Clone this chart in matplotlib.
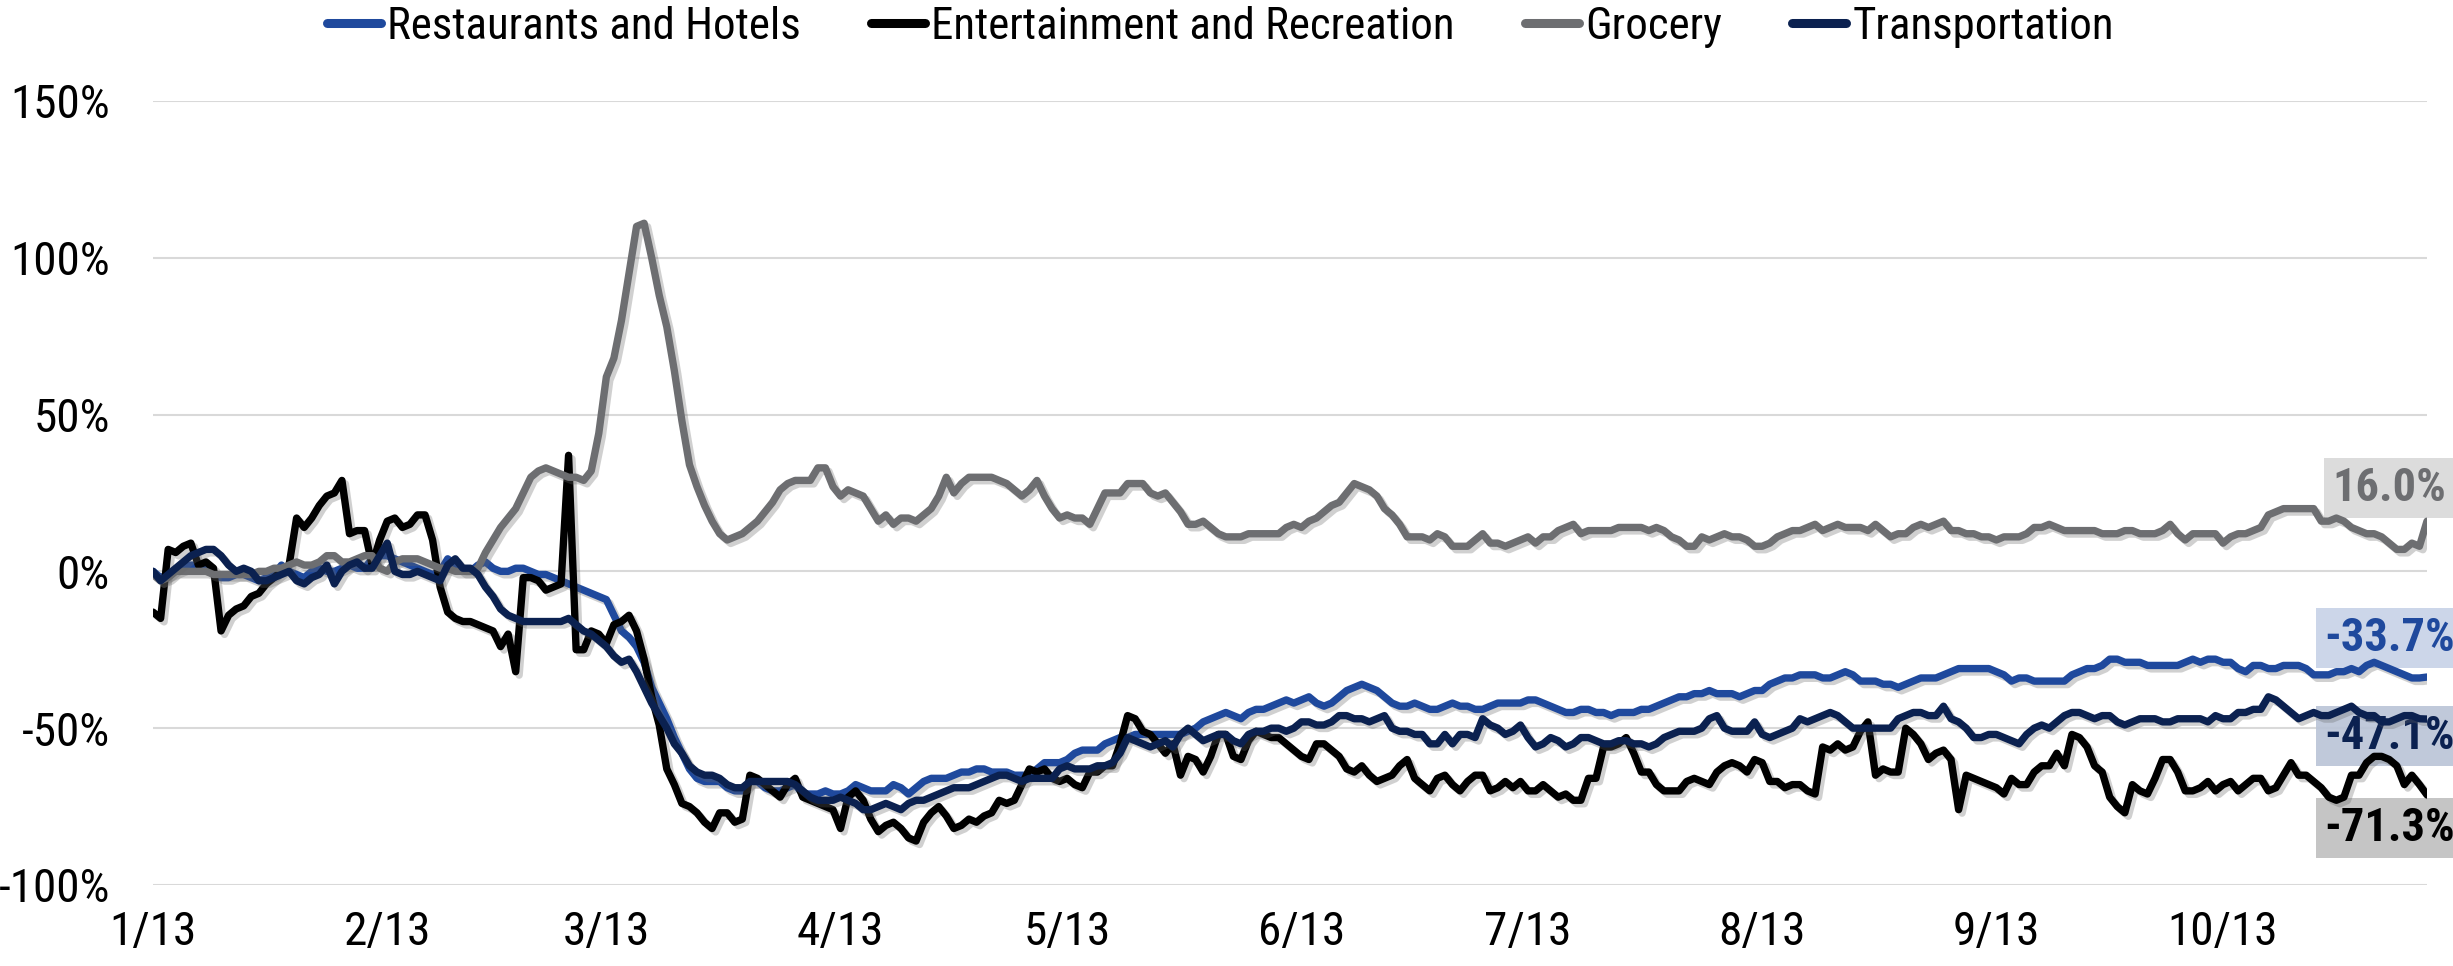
import numpy as np
import pandas as pd
import matplotlib
matplotlib.use("Agg")
import matplotlib.pyplot as plt
import matplotlib.dates as mdates
import matplotlib.patheffects as pe
from matplotlib import font_manager
from matplotlib.font_manager import FontProperties
from matplotlib.textpath import TextPath
from matplotlib.ticker import FuncFormatter

START_DATE = "2020-01-13"

# daily change vs. baseline, in percent, one value per day from 1/13
restaurants = [
    0, -2, -1, 0, 1, 2, 2, 1, -1, -2,
    -2, -1, -1, -2, -3, -2, -1, 2, 0, -1,
    -2, 0, 1, 0, 0, 1, 2, 1, 1, 4,
    5, 5, 4, 3, 2, 1, 0, -1, 0, 4,
    2, 0, 0, 2, 3, 1, 0, 0, 1, 1,
    0, -1, -1, -2, -3, -4, -5, -6, -7, -8,
    -9, -14, -19, -21, -24, -29, -37, -42, -47, -53,
    -58, -63, -66, -67, -67, -67, -69, -70, -70, -67,
    -67, -69, -70, -70, -69, -68, -71, -71, -71, -70,
    -71, -71, -70, -68, -69, -70, -70, -70, -68, -69,
    -71, -69, -67, -66, -66, -66, -65, -64, -64, -63,
    -63, -64, -64, -64, -65, -65, -65, -63, -61, -61,
    -61, -60, -58, -57, -57, -57, -55, -54, -53, -53,
    -52, -52, -52, -52, -52, -52, -52, -51, -50, -48,
    -47, -46, -45, -46, -47, -45, -44, -44, -43, -42,
    -41, -42, -41, -40, -42, -43, -42, -40, -38, -37,
    -36, -37, -38, -40, -42, -43, -43, -42, -43, -44,
    -44, -43, -42, -43, -43, -44, -44, -43, -42, -42,
    -42, -42, -41, -41, -42, -43, -44, -45, -45, -44,
    -44, -45, -45, -46, -45, -45, -45, -44, -44, -43,
    -42, -41, -40, -40, -39, -39, -38, -39, -39, -39,
    -40, -39, -38, -38, -36, -35, -34, -34, -33, -33,
    -33, -34, -34, -33, -32, -33, -35, -35, -35, -36,
    -36, -37, -36, -35, -34, -34, -34, -33, -32, -31,
    -31, -31, -31, -31, -32, -33, -35, -34, -34, -35,
    -35, -35, -35, -35, -33, -32, -31, -31, -30, -28,
    -28, -29, -29, -29, -30, -30, -30, -30, -30, -29,
    -28, -29, -28, -28, -29, -29, -31, -32, -30, -30,
    -31, -31, -30, -30, -30, -31, -33, -33, -33, -32,
    -32, -31, -32, -30, -29, -30, -31, -32, -33, -34,
    -34, -33.7,
]

entertainment = [
    -13, -15, 7, 6, 8, 9, 2, 3, 1, -19,
    -14, -12, -11, -8, -7, -4, -2, 0, 2, 17,
    14, 17, 21, 24, 25, 29, 12, 13, 13, 2,
    10, 16, 17, 14, 15, 18, 18, 10, -5, -13,
    -15, -16, -16, -17, -18, -19, -24, -20, -32, -2,
    -2, -3, -6, -5, -4, 37, -25, -25, -19, -20,
    -23, -17, -16, -14, -19, -28, -40, -49, -63, -68,
    -74, -75, -77, -80, -82, -77, -77, -80, -79, -65,
    -66, -68, -70, -72, -68, -66, -72, -73, -74, -75,
    -76, -82, -72, -70, -73, -79, -83, -81, -80, -82,
    -85, -86, -80, -77, -75, -78, -82, -81, -79, -80,
    -78, -77, -73, -74, -73, -68, -63, -64, -63, -66,
    -67, -66, -68, -69, -64, -64, -62, -62, -55, -46,
    -47, -51, -52, -55, -58, -55, -65, -59, -60, -64,
    -59, -52, -52, -59, -60, -54, -51, -52, -53, -53,
    -55, -57, -59, -60, -55, -55, -57, -59, -63, -64,
    -62, -65, -67, -66, -65, -62, -60, -66, -68, -70,
    -66, -65, -68, -70, -67, -65, -65, -70, -69, -67,
    -69, -67, -70, -70, -68, -70, -72, -71, -73, -73,
    -66, -66, -56, -56, -55, -53, -58, -64, -64, -68,
    -70, -70, -70, -67, -66, -67, -68, -64, -62, -61,
    -62, -64, -60, -61, -67, -67, -69, -68, -68, -70,
    -71, -56, -57, -55, -57, -56, -51, -48, -65, -63,
    -64, -64, -50, -52, -55, -60, -58, -57, -60, -76,
    -65, -66, -67, -68, -69, -71, -66, -68, -68, -64,
    -62, -62, -58, -62, -52, -53, -56, -62, -64, -72,
    -75, -77, -68, -70, -71, -66, -60, -60, -64, -70,
    -70, -69, -67, -70, -68, -67, -70, -68, -66, -66,
    -70, -69, -65, -61, -65, -65, -67, -69, -72, -73,
    -72, -65, -65, -61, -59, -59, -60, -62, -68, -65,
    -68, -71.3,
]

grocery = [
    -1, -3, -2, 0, 0, 0, 0, 0, -1, -1,
    -1, -1, -1, -1, 0, 0, 1, 1, 2, 3,
    2, 2, 3, 5, 5, 3, 3, 4, 5, 5,
    1, 0, 3, 4, 4, 4, 3, 2, 1, 1,
    0, 0, 0, 1, 6, 10, 14, 17, 20, 25,
    30, 32, 33, 32, 31, 30, 30, 29, 32, 44,
    62, 68, 80, 95, 110, 111, 100, 88, 78, 64,
    48, 34, 27, 21, 16, 12, 10, 11, 12, 14,
    16, 19, 22, 26, 28, 29, 29, 29, 33, 33,
    27, 24, 26, 25, 24, 20, 16, 18, 15, 17,
    17, 16, 18, 20, 24, 30, 25, 28, 30, 30,
    30, 30, 29, 28, 26, 24, 26, 29, 24, 20,
    17, 18, 17, 17, 15, 20, 25, 25, 25, 28,
    28, 28, 25, 24, 25, 22, 19, 15, 15, 16,
    14, 12, 11, 11, 11, 12, 12, 12, 12, 12,
    14, 15, 14, 16, 17, 19, 21, 22, 25, 28,
    27, 26, 24, 20, 18, 15, 11, 11, 11, 10,
    12, 11, 8, 8, 8, 10, 12, 9, 9, 8,
    9, 10, 11, 9, 11, 11, 13, 14, 15, 12,
    13, 13, 13, 13, 14, 14, 14, 14, 13, 14,
    13, 11, 10, 8, 8, 11, 10, 11, 12, 11,
    11, 10, 8, 8, 9, 11, 12, 13, 13, 14,
    15, 13, 14, 15, 14, 14, 14, 13, 15, 13,
    11, 12, 12, 14, 15, 14, 15, 16, 13, 13,
    12, 12, 11, 11, 10, 11, 11, 11, 12, 14,
    14, 15, 14, 13, 13, 13, 13, 13, 12, 12,
    12, 13, 13, 12, 12, 12, 13, 15, 12, 10,
    12, 12, 12, 12, 9, 11, 12, 12, 13, 14,
    18, 19, 20, 20, 20, 20, 20, 16, 16, 17,
    16, 14, 13, 12, 12, 11, 9, 7, 7, 9,
    8, 16.0,
]

transportation = [
    0, -3, -1, 1, 3, 5, 6, 7, 7, 5,
    2, 0, 1, 0, -3, -3, -2, -1, 0, -3,
    -4, -2, -1, 2, -4, 0, 2, 3, 1, 1,
    5, 9, 0, -1, -1, 0, -1, -2, -3, 2,
    4, 1, 1, -1, -5, -8, -12, -14, -15, -16,
    -16, -16, -16, -16, -16, -15, -17, -19, -20, -22,
    -24, -27, -29, -28, -32, -37, -42, -46, -50, -55,
    -58, -62, -64, -65, -65, -66, -68, -69, -69, -67,
    -67, -67, -67, -67, -67, -68, -70, -72, -73, -73,
    -73, -72, -73, -74, -76, -76, -75, -74, -75, -76,
    -74, -73, -73, -72, -71, -70, -69, -69, -69, -68,
    -67, -66, -65, -65, -66, -67, -66, -66, -66, -66,
    -63, -62, -63, -63, -63, -62, -62, -61, -58, -53,
    -54, -55, -56, -55, -54, -56, -52, -50, -52, -54,
    -53, -52, -52, -54, -55, -52, -51, -51, -50, -50,
    -51, -50, -48, -48, -49, -49, -48, -46, -46, -47,
    -47, -48, -47, -46, -50, -51, -51, -52, -52, -55,
    -55, -52, -55, -52, -52, -53, -47, -49, -50, -52,
    -51, -49, -53, -56, -55, -53, -54, -56, -55, -53,
    -53, -54, -55, -55, -54, -54, -55, -55, -56, -55,
    -53, -52, -51, -51, -51, -50, -47, -46, -50, -51,
    -51, -51, -48, -52, -53, -52, -51, -50, -47, -48,
    -47, -46, -45, -46, -48, -50, -50, -50, -50, -50,
    -50, -47, -46, -45, -45, -46, -46, -43, -47, -48,
    -50, -53, -53, -52, -52, -53, -54, -55, -52, -50,
    -49, -50, -48, -46, -45, -45, -46, -47, -46, -46,
    -48, -49, -48, -47, -47, -47, -48, -48, -47, -47,
    -47, -47, -48, -46, -47, -47, -45, -45, -44, -44,
    -40, -41, -43, -45, -47, -46, -45, -46, -46, -45,
    -44, -43, -45, -46, -46, -48, -48, -47, -46, -46,
    -47, -47.1,
]

series_names = ["Restaurants and Hotels", "Entertainment and Recreation",
                "Grocery", "Transportation"]
series_colors = ["#1F499D", "#000000", "#6D6E71", "#0B2150"]
box_colors = ["#C7D2E7", "#BFBFBF", "#D9D9D9", "#B9C3D6"]


def pick_font():
    """Use a narrow sans if one is installed, else plain Liberation Sans."""
    installed = {f.name for f in font_manager.fontManager.ttflist}
    for name in ["Liberation Sans Narrow", "Arial Narrow", "Roboto Condensed",
                 "Noto Sans Condensed", "Open Sans Condensed", "DejaVu Sans Condensed"]:
        if name in installed:
            return name
    return "Liberation Sans"


def size_for_width(family, text, width_px, weight="normal"):
    """Font size (pt at 100 dpi) giving the requested rendered width in pixels."""
    path = TextPath((0, 0), text, size=100, prop=FontProperties(family=family, weight=weight))
    w100 = path.get_extents().width / 100.0
    return width_px * 72.0 / (100.0 * w100)


def plot_spending():
    family = pick_font()
    plt.rcParams["font.family"] = [family, "Liberation Sans", "DejaVu Sans"]
    tick_size = size_for_width(family, "150%", 94)
    legend_size = size_for_width(family, "Restaurants and Hotels", 408)
    tag_size = size_for_width(family, "16.0%", 108, weight="bold")

    values = [restaurants, entertainment, grocery, transportation]
    assert all(len(v) == len(restaurants) for v in values)
    dates = pd.date_range(START_DATE, periods=len(restaurants), freq="D")

    fig = plt.figure(figsize=(24.53, 9.66), dpi=100)
    ax = fig.add_axes([0.0624, 0.0839, 0.9270, 0.8116])

    shadow = [pe.SimpleLineShadow(offset=(2.5, -2.5), shadow_color="0.4", alpha=0.3),
              pe.Normal()]
    for name, color, vals in zip(series_names, series_colors, values):
        ax.plot(dates, vals, color=color, lw=5.3, label=name,
                solid_joinstyle="round", solid_capstyle="round",
                path_effects=shadow, zorder=3)

    ax.set_ylim(-100, 150)
    ax.set_yticks(np.arange(-100, 151, 50))
    ax.yaxis.set_major_formatter(FuncFormatter(lambda v, _: f"{v:.0f}%"))
    ax.set_xlim(dates[0], dates[-1])
    ax.xaxis.set_major_locator(mdates.DayLocator(bymonthday=13))
    ax.xaxis.set_major_formatter(
        FuncFormatter(lambda v, _: f"{mdates.num2date(v).month}/{mdates.num2date(v).day}"))

    ax.grid(axis="y", color="#D9D9D9", lw=1.5)
    ax.grid(axis="x", visible=False)
    ax.set_axisbelow(True)
    for spine in ax.spines.values():
        spine.set_visible(False)
    ax.tick_params(length=0, labelsize=tick_size)
    ax.tick_params(axis="y", pad=31)
    ax.tick_params(axis="x", pad=18)

    # end-of-series value tags, nudged so they don't sit on each other;
    # drawn under the lines so a line ending inside a tag stays visible
    nudges = {"Restaurants and Hotels": 12.5, "Entertainment and Recreation": -10.5,
              "Grocery": 10.6, "Transportation": -5.4}
    for name, color, box, vals in zip(series_names, series_colors, box_colors, values):
        last = vals[-1]
        ax.text(dates[-6], last + nudges[name], f"{last:.1f}%", ha="center", va="center",
                fontsize=tag_size, fontweight="bold", color=color, zorder=2.5,
                clip_on=False,
                bbox=dict(boxstyle="square,pad=0.17", fc=box, ec="none", alpha=0.9))

    scale = legend_size / 28.0
    leg = fig.legend(loc="center", bbox_to_anchor=(0.4975, 0.972), ncol=4, frameon=False,
                     fontsize=legend_size, handlelength=1.4 / scale,
                     handletextpad=0.15 / scale, columnspacing=1.8 / scale)
    for line in leg.get_lines():
        line.set_path_effects([])
        line.set_linewidth(6.5)

    fig.savefig("out.png", dpi=100)


if __name__ == "__main__":
    plot_spending()
